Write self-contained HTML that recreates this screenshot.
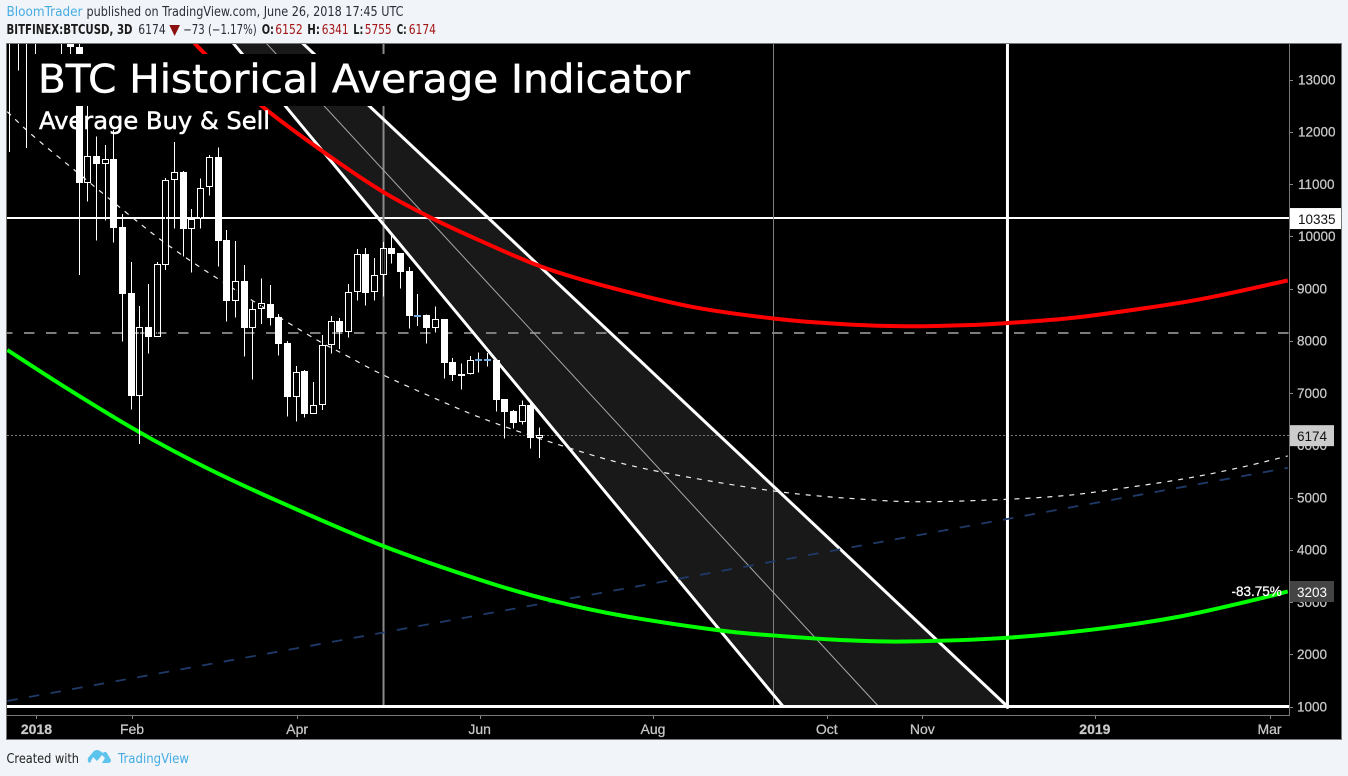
<!DOCTYPE html>
<html lang="en">
<head>
<meta charset="utf-8">
<title>BTC Historical Average Indicator</title>
<style>
html,body{margin:0;padding:0;background:#f1f4f8;width:1348px;height:776px;overflow:hidden}
svg{display:block}
text{font-family:"Liberation Sans",sans-serif}
.ui{font-family:"DejaVu Sans","Liberation Sans",sans-serif}
</style>
</head>
<body>
<svg id="chart" xmlns="http://www.w3.org/2000/svg" width="1348" height="776" viewBox="0 0 1348 776">
  <defs>
    <clipPath id="plot-clip"><rect x="7" y="44" width="1281" height="671"/></clipPath>
    <clipPath id="plot-clip-wide"><rect x="7" y="44" width="1282" height="671"/></clipPath>
  </defs>
  <rect x="0" y="0" width="1348" height="776" fill="#f1f4f8"/>

  <g class="ui" font-size="13">
    <text class="ui" x="6.5" y="16" fill="#45ade2" textLength="76" lengthAdjust="spacingAndGlyphs">BloomTrader</text>
    <text class="ui" x="86.5" y="16" fill="#2a2e39" textLength="317" lengthAdjust="spacingAndGlyphs">published on TradingView.com, June 26, 2018 17:45 UTC</text>
    <text class="ui" x="6.5" y="34" fill="#1c1c1c" font-weight="bold" textLength="126" lengthAdjust="spacingAndGlyphs">BITFINEX:BTCUSD, 3D</text>
    <text class="ui" x="138.3" y="34" fill="#2a2e39" textLength="27.4" lengthAdjust="spacingAndGlyphs">6174</text>
    <polygon points="169.3,25 180,25 174.6,36" fill="#8b0e0e"/>
    <text class="ui" x="183.3" y="34" fill="#2a2e39" textLength="73.4" lengthAdjust="spacingAndGlyphs">−73 (−1.17%)</text>
    <text class="ui" x="261.7" y="34" fill="#1c1c1c" font-weight="bold" textLength="12.3" lengthAdjust="spacingAndGlyphs">O:</text>
    <text class="ui" x="275.3" y="34" fill="#a31515" textLength="27.4" lengthAdjust="spacingAndGlyphs">6152</text>
    <text class="ui" x="307.3" y="34" fill="#1c1c1c" font-weight="bold" textLength="12.7" lengthAdjust="spacingAndGlyphs">H:</text>
    <text class="ui" x="321.7" y="34" fill="#a31515" textLength="27" lengthAdjust="spacingAndGlyphs">6341</text>
    <text class="ui" x="353.3" y="34" fill="#1c1c1c" font-weight="bold" textLength="10" lengthAdjust="spacingAndGlyphs">L:</text>
    <text class="ui" x="364.7" y="34" fill="#a31515" textLength="27" lengthAdjust="spacingAndGlyphs">5755</text>
    <text class="ui" x="396.7" y="34" fill="#1c1c1c" font-weight="bold" textLength="10" lengthAdjust="spacingAndGlyphs">C:</text>
    <text class="ui" x="408.7" y="34" fill="#a31515" textLength="27.3" lengthAdjust="spacingAndGlyphs">6174</text>
  </g>

  <rect x="6.5" y="43.5" width="1335" height="696" fill="#000" stroke="#777" stroke-width="1"/>
  <g id="drawings" clip-path="url(#plot-clip-wide)"></g>
  <g id="series" clip-path="url(#plot-clip)"></g>
  <g id="candles" clip-path="url(#plot-clip-wide)" shape-rendering="crispEdges"></g>

  <rect x="31" y="54" width="668" height="52" fill="#000"/>
  <text class="ui" x="38" y="92.5" font-size="39" fill="#fff" stroke="#fff" stroke-width="0.5" textLength="652" lengthAdjust="spacingAndGlyphs">BTC Historical Average Indicator</text>
  <text class="ui" x="39" y="129" font-size="24" fill="#fff" stroke="#fff" stroke-width="0.5" textLength="231" lengthAdjust="spacingAndGlyphs">Average Buy &amp; Sell</text>

  <line x1="1289.5" y1="44" x2="1289.5" y2="716" stroke="#777"/>
  <line x1="7" y1="715.5" x2="1290" y2="715.5" stroke="#777"/>
  <g id="y-axis"></g>
  <g id="x-axis"></g>
  <g id="price-labels"></g>

  <g>
    <text class="ui" x="6.5" y="763" font-size="13" fill="#222" textLength="72.5" lengthAdjust="spacingAndGlyphs">Created with</text>
    <path d="M88 758 L94 751 Q97 749 100 751 L103 753 Q106 750 108 755 L111 760 Q111 763 108 763 L102 763 L105 758 L102 755 L97 761 L93 757 L90 763 Q87 762 88 758 Z" fill="#5cc3ec"/>
    <text class="ui" x="118" y="763" font-size="13" fill="#45ade2" textLength="71" lengthAdjust="spacingAndGlyphs">TradingView</text>
  </g>
</svg>

<script>
// ---- candle data (one entry per 3-day bar, starting at bar index 0) ----
const opens = [15500,15000,14900,14700,14600,15000,15500,14600,13617,11025,11531,11389,11479,10172,8909,6949,8264,8078,9456,11071,11224,10145,10325,10937,11517,9929,8767,9144,8250,8602,8704,8455,7952,6930,7416,6604,6776,7913,8378,8168,8928,9655,8928,9253,9770,9674,9335,8480,8493,8250,8411,7588,7351,7370,7638,7632,7626,6886,6650,6445,6771,6152];
const highs = [17000,17000,16500,16000,16000,16500,16500,15000,14500,12646,11913,11747,12034,10426,9508,8665,9087,9508,11115,11804,11249,10522,11110,11555,11703,10120,9910,9450,8755,9196,9067,8512,7996,7517,7441,7211,8110,8474,8436,9087,9756,9776,9584,9890,10005,9674,9412,8895,8507,8660,8417,7670,7569,7709,7779,7766,7640,6886,6675,6861,6828,6341];
const lows = [11613,13169,11689,12700,14300,14300,12500,12900,9259,10662,9915,10298,9877,7982,6681,6024,7753,8078,9354,10145,9609,9303,10145,10777,9418,8365,8442,7695,7255,8321,8288,7714,6547,6451,6528,6604,6675,7753,7842,8059,8767,8671,8767,8843,9475,8997,8231,8283,7944,8155,7274,7230,7064,7351,7389,7504,6642,6126,6317,6394,5934,5755];
const closes = [15000,14900,14700,14600,15000,15500,14600,13617,11020,11531,11389,11479,10164,8901,6949,8258,8072,9464,11071,11224,10145,10325,10918,11511,9915,8767,9138,8250,8602,8717,8441,7944,6930,7408,6604,6776,7913,8373,8168,8928,9655,8920,9253,9770,9666,9322,8480,8480,8250,8411,7580,7351,7370,7638,7632,7626,6872,6642,6426,6765,6145,6174];

// ---- curve data ----
const redBars = [20.3,22.5,29.2,36.9,43.0,48.4,54.1,61.0,67.9,78.3,87.9,95.6,103.2,110.9,114.9,120.9,125.5,134.7,139.9,147.1];
const redPrices = [13890,13489,12470,11523,10848,10363,9920,9431,9076,8657,8426,8321,8277,8302,8340,8414,8503,8726,8890,9154];
const greenBars = [-0.25,6.6,15.0,22.7,31.1,43.0,54.9,62.6,70.3,81.8,87.9,95.6,103.0,114.9,125.5,134.7,143.7,147.1];
const greenPrices = [7823,7090,6245,5565,4915,4072,3383,3020,2744,2454,2360,2273,2244,2317,2489,2723,3058,3203];
const avgBars = [-0.25,2.6,7.7,14.2,18.5,24.2,34.4,38.8,43.0,49.2,54.9,63.3,72.9,87.9,99.4,105.9,114.8,120.9,125.5,134.7,141.6,147.1];
const avgPrices = [12384,11938,11236,10350,9800,9163,8110,7714,7345,6880,6484,6005,5559,5125,4953,4920,4966,5029,5117,5345,5573,5795];
const trendBars = [-0.25,147.1];
const trendPrices = [1106,5567];

// ---- channel drawing anchors ----
const channelLowerBars = [23.73,89.03];
const channelMiddleBars = [27.29,100.02];
const channelUpperBars = [31.14,114.84];
const channelPrices = [14100,1000];

// ---- horizontal and vertical drawings ----
const resistancePrice = 10335;
const averagePrice = 8139;
const floorPrice = 1000;
const lastPrice = 6174;
const targetPrice = 3203;
const verticalBars = [43.04,87.92];
const targetBar = 114.84;

// ---- axis tick data ----
const priceTicks = [13000,12000,11000,10000,9000,8000,7000,6000,5000,4000,3000,2000,1000];
const timeTickBars = [3.1,14.1,33.1,54.1,74.05,94.04,105.04,124.9,145];
const timeTickLabels = ['2018','Feb','Apr','Jun','Aug','Oct','Nov','2019','Mar'];

// ---- axis functions ----
function xScale(bar) { return 9.5 + 8.69 * bar; }
function yScale(price) { return 706.5 - (price - 1000) * 0.05225; }

const NS = 'http://www.w3.org/2000/svg';
function make(tag, parent) {
  const el = document.createElementNS(NS, tag);
  parent.appendChild(el);
  return el;
}
function smoothPath(bars, prices) {
  const p = bars.map((b, i) => [xScale(b), yScale(prices[i])]);
  let d = 'M' + p[0][0] + ' ' + p[0][1];
  for (let i = 0; i < p.length - 1; i++) {
    const a = p[Math.max(0, i - 1)], b = p[i], c = p[i + 1], e = p[Math.min(p.length - 1, i + 2)];
    const c1x = b[0] + (c[0] - a[0]) / 6, c1y = b[1] + (c[1] - a[1]) / 6;
    const c2x = c[0] - (e[0] - b[0]) / 6, c2y = c[1] - (e[1] - b[1]) / 6;
    d += 'C' + c1x + ' ' + c1y + ' ' + c2x + ' ' + c2y + ' ' + c[0] + ' ' + c[1];
  }
  return d;
}
function setLine(el, x1, y1, x2, y2, color, width) {
  el.setAttribute('x1', x1);
  el.setAttribute('y1', y1);
  el.setAttribute('x2', x2);
  el.setAttribute('y2', y2);
  el.setAttribute('stroke', color);
  el.setAttribute('stroke-width', width);
}

const drawings = document.getElementById('drawings');
const series = document.getElementById('series');
const candles = document.getElementById('candles');
const yAxis = document.getElementById('y-axis');
const xAxis = document.getElementById('x-axis');
const priceLabels = document.getElementById('price-labels');

// channel fill
const channelFill = make('polygon', drawings);


channelFill.setAttribute('fill', '#191919');
channelFill.setAttribute('transform', 'translate(2.5 0)');
channelFill.setAttribute('points', [
  [xScale(channelLowerBars[0]), yScale(channelPrices[0])],
  [xScale(channelUpperBars[0]), yScale(channelPrices[0])],
  [xScale(channelUpperBars[1]), yScale(channelPrices[1])],
  [xScale(channelLowerBars[1]), yScale(channelPrices[1])]
].map(p => p.join(',')).join(' '));

// horizontal drawings
const resistanceLine = make('line', drawings);


setLine(resistanceLine, 7, Math.floor(yScale(resistancePrice) - 0.5), 1289, Math.floor(yScale(resistancePrice) - 0.5), '#fff', 2);

const averageLine = make('line', drawings);


setLine(averageLine, 7, Math.round(yScale(averagePrice) - 0.5), 1289, Math.round(yScale(averagePrice) - 0.5), '#7c7c7c', 2);
averageLine.setAttribute('stroke-dasharray', '10.5 11.5');
averageLine.setAttribute('stroke-dashoffset', '5');

const lastLine = make('line', drawings);


setLine(lastLine, 7, Math.floor(yScale(lastPrice) - 0.5) + 0.5, 1289, Math.floor(yScale(lastPrice) - 0.5) + 0.5, '#777', 1);
lastLine.setAttribute('stroke-dasharray', '2 2');

// vertical gray guides
verticalBars.forEach((bar, i) => {
  const v = make('line', drawings);
  
  
  setLine(v, xScale(bar), 44, xScale(bar), yScale(floorPrice), i === 0 ? '#8a8a8a' : '#808080', i === 0 ? 2 : 1);
});

// channel lines
const channelMiddle = make('line', drawings);


setLine(channelMiddle, xScale(channelMiddleBars[0]), yScale(channelPrices[0]), xScale(channelMiddleBars[1]), yScale(channelPrices[1]), '#a8a8a8', 1);

const channelLower = make('line', drawings);


setLine(channelLower, xScale(channelLowerBars[0]), yScale(channelPrices[0]), xScale(channelLowerBars[1]), yScale(channelPrices[1]), '#fff', 3);

const channelUpper = make('line', drawings);


setLine(channelUpper, xScale(channelUpperBars[0]), yScale(channelPrices[0]), xScale(channelUpperBars[1]), yScale(channelPrices[1]), '#fff', 3);

const floorLine = make('line', drawings);


setLine(floorLine, 7, yScale(floorPrice), 1289, yScale(floorPrice), '#fff', 3);

const targetLine = make('line', drawings);


setLine(targetLine, xScale(targetBar), 44, xScale(targetBar), yScale(floorPrice) + 1, '#fff', 3);
targetLine.setAttribute('stroke-linecap', 'round');

// curves
const trend = make('path', series);


trend.setAttribute('d', smoothPath(trendBars, trendPrices));
trend.setAttribute('fill', 'none');
trend.setAttribute('stroke', '#1f3a68');
trend.setAttribute('stroke-width', '1.8');
trend.setAttribute('stroke-dasharray', '10.5 11.5');

const avgCurve = make('path', series);


avgCurve.setAttribute('d', smoothPath(avgBars, avgPrices));
avgCurve.setAttribute('fill', 'none');
avgCurve.setAttribute('stroke', '#eeeeee');
avgCurve.setAttribute('stroke-width', '1.2');
avgCurve.setAttribute('stroke-dasharray', '5 6');

const redCurve = make('path', series);


redCurve.setAttribute('d', smoothPath(redBars, redPrices));
redCurve.setAttribute('fill', 'none');
redCurve.setAttribute('stroke', '#ff0000');
redCurve.setAttribute('stroke-width', '4');

const greenCurve = make('path', series);


greenCurve.setAttribute('d', smoothPath(greenBars, greenPrices));
greenCurve.setAttribute('fill', 'none');
greenCurve.setAttribute('stroke', '#00ff00');
greenCurve.setAttribute('stroke-width', '4');

// candlesticks
opens.forEach((open, i) => {
  const close = closes[i];
  const px = Math.floor(xScale(i));
  let topPx = Math.round(yScale(Math.max(open, close)));
  let bottomPx = Math.round(yScale(Math.min(open, close)));
  const isDoji = Math.abs(open - close) <= 10;
  const isHollow = close - open >= 20;
  if (isHollow && bottomPx - topPx < 3) {
    topPx = bottomPx - 2;
    bottomPx = bottomPx + 1;
  }

  const wick = make('rect', candles);
  
  
  wick.setAttribute('x', px);
  wick.setAttribute('y', yScale(highs[i]));
  wick.setAttribute('width', 1);
  wick.setAttribute('height', Math.max(1, yScale(lows[i]) - yScale(highs[i])));
  wick.setAttribute('fill', '#fff');

  if (isHollow) {
    // the wick stops at the body edges of a hollow candle
    const wickGap = make('rect', candles);
    
    
    wickGap.setAttribute('x', px);
    wickGap.setAttribute('y', topPx);
    wickGap.setAttribute('width', 1);
    wickGap.setAttribute('height', bottomPx - topPx);
    wickGap.setAttribute('fill', '#000');
  }

  const body = make('rect', candles);
  
  
  if (isDoji) {
    body.setAttribute('x', px - 3);
    body.setAttribute('y', topPx - 1);
    body.setAttribute('width', 7);
    body.setAttribute('height', 2);
    body.setAttribute('fill', '#6fa8dc');
  } else if (isHollow) {
    body.setAttribute('x', px - 2.5);
    body.setAttribute('y', topPx + 0.5);
    body.setAttribute('width', 6);
    body.setAttribute('height', bottomPx - topPx - 1);
    body.setAttribute('fill', 'none');
    body.setAttribute('stroke', '#fff');
    body.setAttribute('stroke-width', 1);
  } else {
    body.setAttribute('x', px - 3);
    body.setAttribute('y', topPx);
    body.setAttribute('width', 7);
    body.setAttribute('height', Math.max(2, bottomPx - topPx));
    body.setAttribute('fill', '#fff');
  }
});

// price axis
priceTicks.forEach(price => {
  const y = yScale(price);
  const tick = make('line', yAxis);
  
  
  setLine(tick, 1290, Math.round(y) + 0.5, 1293, Math.round(y) + 0.5, '#888', 1);

  const label = make('text', yAxis);
  
  
  label.setAttribute('x', price >= 10000 ? 1298 : 1297);
  label.setAttribute('y', y + 4.8);
  label.setAttribute('font-size', '13.5');
  label.setAttribute('fill', '#c8c8c8');
  label.setAttribute('stroke', '#c8c8c8');
  label.setAttribute('stroke-width', '0.25');
  label.textContent = String(price);
});

// time axis
timeTickBars.forEach((bar, i) => {
  const x = xScale(bar);
  const tick = make('line', xAxis);
  
  
  setLine(tick, Math.round(x) + 0.5, 716, Math.round(x) + 0.5, 719, '#888', 1);

  const label = make('text', xAxis);
  
  
  label.setAttribute('x', x);
  label.setAttribute('y', 734);
  label.setAttribute('text-anchor', 'middle');
  label.setAttribute('font-size', '14');
  label.setAttribute('fill', '#c8c8c8');
  label.setAttribute('stroke', '#c8c8c8');
  label.setAttribute('stroke-width', '0.25');
  if (/^\d+$/.test(timeTickLabels[i])) {
    label.setAttribute('font-weight', 'bold');
  }
  label.textContent = timeTickLabels[i];
});

// price flags
const resistanceFlag = make('rect', priceLabels);


resistanceFlag.setAttribute('x', 1290);
resistanceFlag.setAttribute('y', yScale(resistancePrice) - 10.7);
resistanceFlag.setAttribute('width', 51);
resistanceFlag.setAttribute('height', 21);
resistanceFlag.setAttribute('fill', '#fff');

const resistanceText = make('text', priceLabels);


resistanceText.setAttribute('x', 1298);
resistanceText.setAttribute('y', yScale(resistancePrice) + 5.3);
resistanceText.setAttribute('font-size', '13.5');
resistanceText.setAttribute('fill', '#111');
resistanceText.textContent = String(resistancePrice);

const lastFlag = make('rect', priceLabels);


lastFlag.setAttribute('x', 1290);
lastFlag.setAttribute('y', yScale(lastPrice) - 11);
lastFlag.setAttribute('width', 44);
lastFlag.setAttribute('height', 21);
lastFlag.setAttribute('fill', '#cccccc');

const lastText = make('text', priceLabels);


lastText.setAttribute('x', 1297);
lastText.setAttribute('y', yScale(lastPrice) + 4.6);
lastText.setAttribute('font-size', '13.5');
lastText.setAttribute('fill', '#111');
lastText.textContent = String(lastPrice);

const targetFlag = make('rect', priceLabels);


targetFlag.setAttribute('x', 1290);
targetFlag.setAttribute('y', yScale(targetPrice) - 10.4);
targetFlag.setAttribute('width', 44);
targetFlag.setAttribute('height', 21);
targetFlag.setAttribute('fill', '#444');

const targetText = make('text', priceLabels);


targetText.setAttribute('x', 1297);
targetText.setAttribute('y', yScale(targetPrice) + 5.8);
targetText.setAttribute('font-size', '13.5');
targetText.setAttribute('fill', '#fff');
targetText.textContent = String(targetPrice);

const percentText = make('text', priceLabels);


percentText.setAttribute('x', 1231.5);
percentText.setAttribute('y', 596);
percentText.setAttribute('font-size', '13.5');
percentText.setAttribute('fill', '#fff');
percentText.setAttribute('stroke', '#fff');
percentText.setAttribute('stroke-width', '0.25');
percentText.textContent = '-83.75%';
</script>
</body>
</html>
